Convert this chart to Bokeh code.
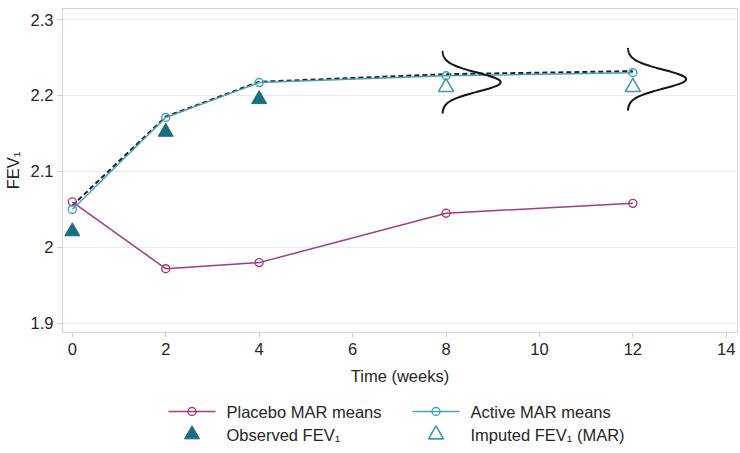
import numpy as np
from bokeh.plotting import figure
from bokeh.layouts import column
from bokeh.models import Range1d, FixedTicker, Label
from bokeh.embed import file_html
from bokeh.resources import INLINE

# Visit schedule and mean FEV1 trajectories
weeks = [0, 2, 4, 8, 12]
placebo_mar = [2.060, 1.972, 1.980, 2.045, 2.058]
active_mar = [2.050, 2.171, 2.217, 2.226, 2.230]
active_pooled = [2.055, 2.172, 2.218, 2.228, 2.232]

# Individual patient values
observed_weeks = [0, 2, 4]
observed_fev1 = [2.021, 2.152, 2.195]
imputed_weeks = [8, 12]
imputed_fev1 = [2.211, 2.211]

# Imputation distributions drawn sideways at the missing visits
dist_base_week = [7.92, 11.89]
dist_mean = [2.2175, 2.2215]
dist_sd = [0.0125, 0.0125]
dist_peak_width = 1.25

x_ticks = [0, 2, 4, 6, 8, 10, 12, 14]
y_ticks = [1.9, 2.0, 2.1, 2.2, 2.3]
y_tick_labels = ["1.9", "2", "2.1", "2.2", "2.3"]

legend_labels = ["Placebo MAR means", "Active MAR means",
                 "Observed FEV\u2081", "Imputed FEV\u2081 (MAR)"]

PLACEBO = "#a53a80"
ACTIVE = "#4b9fb8"
OBSERVED = "#1a6e80"
IMPUTED = "#3c9bb3"
FONT = "Liberation Sans"
TEXT = "#262626"
FS = "16.5px"

LEFT, RIGHT = 62, 3
FRAME_W = 740 - LEFT - RIGHT

p = figure(frame_width=FRAME_W, frame_height=324, output_backend="svg",
           toolbar_location=None,
           x_range=Range1d(-0.21, 14.24), y_range=Range1d(1.888, 2.3145),
           min_border_left=LEFT, min_border_right=RIGHT, min_border_top=8,
           min_border_bottom=60)

p.outline_line_color = "#d4d4d4"
p.outline_line_width = 1
p.background_fill_color = "white"
p.border_fill_color = "white"

p.xgrid.visible = False
p.ygrid.ticker = FixedTicker(ticks=y_ticks)
p.ygrid.grid_line_color = "#ebebeb"
p.ygrid.grid_line_width = 1

p.xaxis.ticker = FixedTicker(ticks=x_ticks)
p.yaxis.ticker = FixedTicker(ticks=y_ticks)
p.yaxis.major_label_overrides = {t: s for t, s in zip(y_ticks, y_tick_labels)}
p.xaxis.axis_label = "Time (weeks)"
p.yaxis.axis_label = "FEV\u2081"

for ax in (p.xaxis, p.yaxis):
    ax.axis_line_color = "#d4d4d4"
    ax.major_tick_line_color = "#cfcfcf"
    ax.major_tick_out = 5
    ax.major_tick_in = 0
    ax.minor_tick_line_color = None
    ax.major_label_text_font = FONT
    ax.major_label_text_font_size = FS
    ax.major_label_text_color = TEXT
    ax.axis_label_text_font = FONT
    ax.axis_label_text_font_size = FS
    ax.axis_label_text_font_style = "normal"
    ax.axis_label_text_color = TEXT
p.xaxis.major_label_standoff = 5
p.xaxis.axis_label_standoff = 9
p.yaxis.major_label_standoff = 4
p.yaxis.axis_label_standoff = 6

# Pooled active trajectory (dashed) beneath the MAR lines
p.line(weeks, active_pooled, line_color="#1e1e1e", line_width=2, line_dash="5 3")

p.line(weeks, placebo_mar, line_color=PLACEBO, line_width=1.5)
p.scatter(weeks, placebo_mar, marker="circle", size=8,
          line_color=PLACEBO, fill_color=None, line_width=1.4)
p.line(weeks, active_mar, line_color=ACTIVE, line_width=1.5)
p.scatter(weeks, active_mar, marker="circle", size=8,
          line_color=ACTIVE, fill_color=None, line_width=1.4)

p.scatter(observed_weeks, observed_fev1, marker="triangle", size=15,
          fill_color=OBSERVED, line_color=OBSERVED)
p.scatter(imputed_weeks, imputed_fev1, marker="triangle", size=15,
          fill_color=None, line_color=IMPUTED, line_width=1.6)

# Sideways normal densities of the imputation model
for base, mu, sd in zip(dist_base_week, dist_mean, dist_sd):
    yy = np.linspace(mu - 3.3 * sd, mu + 3.3 * sd, 121)
    xx = base + dist_peak_width * np.exp(-0.5 * ((yy - mu) / sd) ** 2)
    p.line(xx, yy, line_color="#111111", line_width=2)

# Two-column key in its own panel; its frame lines up with the chart frame,
# so its x range is set in page pixels
key = figure(frame_width=FRAME_W, frame_height=61, output_backend="svg",
             toolbar_location=None, x_axis_location=None, y_axis_location=None,
             x_range=Range1d(LEFT, LEFT + FRAME_W), y_range=Range1d(61, 0),
             min_border_left=LEFT, min_border_right=RIGHT,
             min_border_top=0, min_border_bottom=0, outline_line_color=None)
key.grid.visible = False
key.border_fill_color = "white"

col_x = [168, 412]
row_y = [19, 42]
sample_w = 47
label_gap = 11

# row 0: the mean lines
for cx, color in zip(col_x, [PLACEBO, ACTIVE]):
    key.line([cx, cx + sample_w], [row_y[0], row_y[0]], line_color=color, line_width=1.5)
    key.scatter([cx + sample_w / 2], [row_y[0]], marker="circle", size=8,
                line_color=color, fill_color=None, line_width=1.4)
# row 1: the patient markers
key.scatter([col_x[0] + sample_w / 2], [row_y[1]], marker="triangle", size=15,
            fill_color=OBSERVED, line_color=OBSERVED)
key.scatter([col_x[1] + sample_w / 2], [row_y[1]], marker="triangle", size=15,
            fill_color=None, line_color=IMPUTED, line_width=1.6)

positions = [(col_x[0], row_y[0]), (col_x[1], row_y[0]),
             (col_x[0], row_y[1]), (col_x[1], row_y[1])]
for (cx, cy), txt in zip(positions, legend_labels):
    key.add_layout(Label(x=cx + sample_w + label_gap, y=cy, text=txt,
                         text_font=FONT, text_font_size=FS, text_color=TEXT,
                         text_baseline="middle", text_align="left"))

open("out.html", "w").write(file_html(column(p, key, spacing=0), INLINE))
